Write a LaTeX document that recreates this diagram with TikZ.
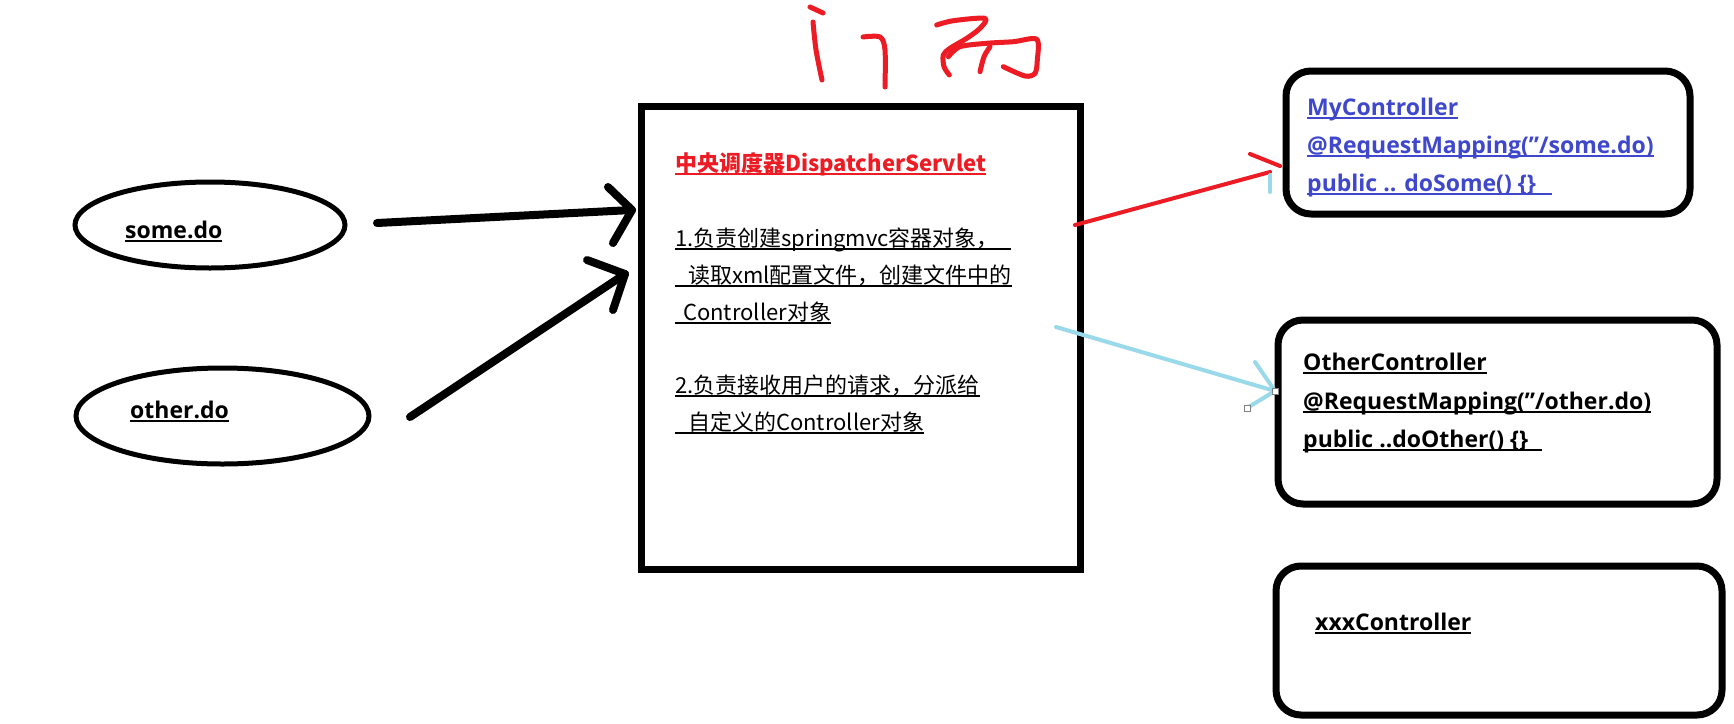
\documentclass[tikz,border=0pt]{standalone}
\usepackage{fontspec}
\setmainfont{Open Sans}
\newfontfamily\cjkf{Noto Sans CJK SC}
\usetikzlibrary{shapes.geometric}
\definecolor{pred}{HTML}{ED1C24}
\definecolor{pindigo}{HTML}{3F48CC}
\definecolor{pturq}{HTML}{99D9EA}
\newcommand\myul[2][0pt]{\setbox0\hbox{#2\hspace*{#1}}\rlap{\rule[-3.5pt]{\wd0}{1.6pt}}\box0}
\newcommand\sq{\char"22\relax}
\tikzset{
  sqbox/.style={draw, line width=7pt, inner sep=0pt},
  rbox/.style={draw, line width=7pt, rounded corners=25pt, inner sep=0pt},
  oval/.style={draw, ellipse, line width=5pt, inner sep=0pt},
  lbl/.style={anchor=base west, inner sep=0pt, font=\fontsize{23}{28}\selectfont\bfseries},
  ctext/.style={anchor=base west, inner sep=0pt, font=\cjkf\fontsize{22}{26}\selectfont, text=black},
  blk/.style={line width=8pt, line cap=round, line join=round},
  redln/.style={draw=pred, line width=4pt, line cap=round},
  blueln/.style={draw=pturq, line width=4pt, line cap=round},
  hand/.style={draw=pred, line width=5pt, line cap=round, line join=round},
  handle/.style={draw=gray, fill=white, minimum size=6pt, inner sep=0pt, line width=1pt},
}
\begin{document}
\begin{tikzpicture}[x=1pt,y=-1pt]
\useasboundingbox[fill=white] (0,0) rectangle (1734,723);

% handwritten title
\draw[hand] (810,7) -- (823,13);
\draw[hand] plot[smooth] coordinates {(813,22) (816,50) (822,80)};
\draw[hand] plot[smooth] coordinates {(863,37) (880,37) (885,50) (885,87)};
\draw[hand] plot[smooth] coordinates {(936.7,25) (953.3,20.7) (985,18.3) (980,28.3) (966.7,38.3) (950,48.3) (943.3,55) (944,66.7) (949.3,75)};
\draw[hand] plot[smooth] coordinates {(948.3,56.7) (960,46.7) (986.7,43.3) (1013.3,41.7) (1036.7,39.3) (1037.3,60) (1035,73.3) (1025,76) (1003.3,66.7)};
\draw[hand] plot[smooth] coordinates {(990,46.7) (984,56.7) (980,71.7)};

% left ovals
\node[oval, minimum width=270pt, minimum height=86pt] (some) at (210,225) {};
\node[oval, minimum width=293pt, minimum height=96pt] (other) at (222.5,416) {};
\node[lbl] (somet) at (125,238) {\myul{some.do}};
\node[lbl] (othert) at (130,418) {\myul{other.do}};

% central box
\node[sqbox, minimum width=439pt, minimum height=463pt] (disp) at (860.5,337.5) {};
\node[ctext, text=pred, font=\cjkf\fontsize{22}{26}\selectfont\bfseries] (title) at (675,171) {\myul{中央调度器DispatcherServlet}};
\node[ctext] (l1) at (675,246) {\myul[12pt]{1.负责创建springmvc容器对象，}};
\node[ctext] (l2) at (675,283) {\myul{\hspace*{13pt}读取xml配置文件，创建文件中的}};
\node[ctext] (l3) at (675,320) {\myul{\hspace*{8pt}Controller对象}};
\node[ctext] (l4) at (675,393) {\myul{2.负责接收用户的请求，分派给}};
\node[ctext] (l5) at (675,430) {\myul{\hspace*{13pt}自定义的Controller对象}};

% right boxes
\node[rbox, minimum width=404pt, minimum height=143pt] (my) at (1488,142.5) {};
\node[lbl, text=pindigo] (my1) at (1307,115) {\myul{MyController}};
\node[lbl, text=pindigo] (my2) at (1307,153) {\myul{@RequestMapping(\sq/some.do)}};
\node[lbl, text=pindigo] (my3) at (1307,191) {\myul[16pt]{public .. doSome() \{\}}};

\node[rbox, minimum width=439pt, minimum height=184pt] (oth) at (1497.5,412) {};
\node[lbl] (ot1) at (1303,370) {\myul{OtherController}};
\node[lbl] (ot2) at (1303,409) {\myul{@RequestMapping(\sq/other.do)}};
\node[lbl] (ot3) at (1303,447) {\myul[14pt]{public ..doOther() \{\}}};

\node[rbox, minimum width=446pt, minimum height=149pt] (xxx) at (1499,640.5) {};
\node[lbl] (xx1) at (1315,630) {\myul{xxxController}};

% black arrows
\coordinate (a1s) at (377,223);
\coordinate (a1t) at (632,210);
\draw[blk] (a1s) -- (a1t);
\draw[blk] (608,187) -- (a1t) -- (613,243);
\coordinate (a2s) at (410,417);
\coordinate (a2t) at (625,274);
\draw[blk] (a2s) -- (a2t);
\draw[blk] (587,260) -- (a2t) -- (613,310);

% red arrow
\coordinate (r1s) at (1075,225);
\coordinate (r1t) at (1270,172);
\draw[redln] (r1s) -- (r1t);
\draw[redln] (1250,154) -- (1280,166);
\draw[blueln] (1270,175) -- (1270,192);

% light blue arrow
\coordinate (b1s) at (1056,327);
\draw[blueln] (b1s) -- (1275,391);
\draw[blueln] (1255,362) -- (1275,391) -- (1247,408);
\node[handle] (h1) at (1275,391) {};
\node[handle] (h2) at (1247,408) {};
\end{tikzpicture}
\end{document}
